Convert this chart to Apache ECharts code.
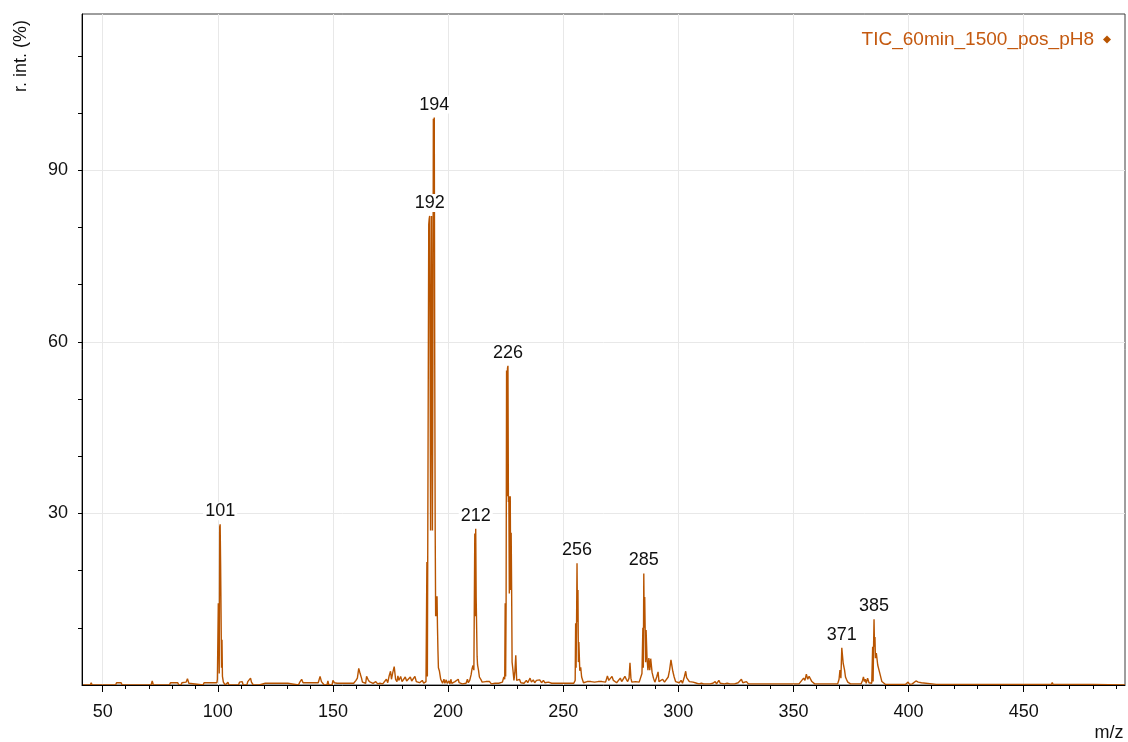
<!DOCTYPE html>
<html>
<head>
<meta charset="utf-8">
<title>TIC_60min_1500_pos_pH8</title>
<script src="https://cdn.jsdelivr.net/npm/echarts@6/dist/echarts.min.js"></script>
<style>
  html, body { margin: 0; padding: 0; background: #fff; }
  #chart { width: 1128px; height: 742px; }
</style>
</head>
<body>
<div id="chart"></div>
<script>
// Mass spectrum profile, [m/z, relative intensity %], split by region.
const lowMass = [
  [41,0],[44.6,0],[45,0.4],[45.4,0],[55.6,0],[56,0.4],[58,0.4],[58.4,0],[71,0],[71.5,0.7],[72,0],
  [79,0],[79.4,0.4],[82.6,0.4],[83,0],[84,0],[84.4,0.4],[86.2,0.5],[86.8,1.1],[87.4,0.3],[88,0],
  [93.6,0],[94,0.4],[97.6,0.4],[98,0.7],[98.4,0.4],[99.6,0.4],[99.8,1.0]
];
const peak101 = [
  [100.0,1.2],[100.2,14.3],[100.4,14.3],[100.6,2],[100.8,27.6],[101.0,28.1],[101.2,21.3],[101.4,21.3],
  [101.6,3],[101.8,7.9],[102.0,1.5],[102.4,0.5],[102.8,0.8],[103.2,0],[104,0],[104.4,0.5],[104.8,0]
];
const midMass = [
  [109,0],[109.4,0.5],[110,0.3],[110.6,0.6],[111,0],[112.6,0],[113,0.6],[113.6,0.5],[114.2,1.2],[114.6,0.5],
  [115,0.8],[115.4,0],[118,0],[118.4,0.3],[120.6,0.3],[121,0],[121.6,0.3],[124,0.3],[124.4,0],[125,0.3],
  [127.4,0.3],[128,0.2],[130.4,0.3],[131,0],[135,0],[135.6,0.5],[136.4,1.0],[137,0.4],[139.4,0.4],[140,0.3],
  [141.8,0.4],[142.2,0.5],[143.6,0.4],[144.4,1.5],[145,0.6],[145.6,0.3],[146.2,0],[147.4,0],[147.8,0.7],[148.2,0],
  [149.6,0],[150,0.8],[150.6,0.4],[151.2,0.4],[151.8,0.3],[159,0.3],[160,0.8],[160.6,1.2],[161.2,2.9],[161.8,2.0],
  [162.4,1.2],[162.8,0.5],[163.4,0.5],[164.2,0.3],[164.6,1.5],[165.2,1.0],[165.8,0.6],[166.6,0.5],[167.4,0.3],
  [168,0.2],[168.6,0.6],[169.4,0.2],[170.4,0.3],[171,0.6],[171.6,0.2],[172.4,0.3],[173.2,1.0],[173.8,0.4],
  [174.4,1.6],[175,2.4],[175.4,1.0],[176,2.2],[176.6,3.2],[177.2,1.0],[177.8,0.6],[178.2,1.6],[178.6,0.8],
  [179.4,1.5],[180,0.6],[180.6,0.6],[181.4,1.4],[182,0.7],[182.8,0.6],[183.6,1.4],[184.2,0.7],[185,1.0],
  [185.6,1.5],[186.2,0.6],[187,0.4],[187.6,0.4],[188.2,0.6],[188.8,0.8],[189.4,0.3],[190.0,0.3],[190.4,0.6]
];
const peak192to212 = [
  [190.8,21.5],[191.0,1.5],[191.4,1.2],[191.6,80.5],[191.8,81.5],[192.0,82],[192.2,56],[192.4,27],[192.6,56],
  [192.8,82],[193.0,56],[193.2,27],[193.4,56],[193.6,99],[193.8,98],[194.0,99.2],[194.2,56],[194.4,27],
  [194.6,12],[194.8,15.5],[195.0,12],[195.2,15.5],[195.4,10],[195.6,6],[195.8,3],[196.2,2.5],[196.8,1],
  [197.2,0.8],[197.6,0.3],[198.2,1.0],[198.6,0.3],[199.2,0.9],[199.6,0.3],[200.4,0.7],[200.8,0.2],[201.2,1.0],
  [201.6,0.3],[202.2,0.4],[203,0.6],[203.6,0.3],[204.4,1.0],[204.8,0.4],[205.4,0.6],[206.2,0.2],[207,0.4],
  [207.8,0.3],[208.4,1.0],[208.8,0.4],[209.4,0.8],[210,1.8],[210.4,2.8],[210.8,3.4],[211.2,2.6],
  [211.6,26.5],[211.8,12],[212.0,27.3],[212.2,15.2],[212.4,15.2],[212.6,5],[212.8,3.5],[213.2,2.6],
  [213.6,1.4],[214.2,1.0],[214.8,0.5],[215.6,0.5],[216.4,0.6],[217.2,0.3],[218,0.6],[218.8,0.2],[219.6,0.5],
  [220.4,0.3],[221.2,0.6],[222,0.3],[222.8,0.4],[223.6,0.5],[224.2,1.4],[224.6,1.0]
];
const peak226to256 = [
  [224.8,14.3],[225.0,1.5],[225.2,14.3],[225.4,55],[225.6,33],[225.8,55.4],[226.0,55.8],[226.2,32],[226.4,33],
  [226.6,16],[226.8,26.6],[227.0,33],[227.2,16.6],[227.4,26.6],[227.6,16.6],[227.8,4],[228.2,2.5],[228.6,0.8],
  [229.0,2.2],[229.4,5.2],[229.8,0.8],[230.4,0.5],[231,1.0],[231.6,0.4],[232.4,0.6],[233,0.3],[234,0.8],
  [234.6,0.4],[235.6,1.2],[236.2,0.5],[237,0.9],[237.6,0.4],[238.4,0.8],[239,0.5],[239.8,0.9],[240.6,0.4],
  [241.4,0.8],[242,0.4],[242.8,0.6],[243.6,0.5],[244.4,0.8],[245,0.3],[245.8,0.6],[246.6,0.3],[247.4,0.6],
  [248.2,0.3],[249,0.5],[249.8,0.3],[250.6,0.6],[251.4,0.3],[252.2,0.5],[253,0.3],[253.8,0.5],[254.6,0.3],
  [255.2,0.8],[255.4,10.8],[255.6,3],[255.8,10.8],[256.0,21.3],[256.2,11],[256.4,16.6],[256.6,4],[256.8,7.5],
  [257.0,7.5],[257.2,2.5],[257.6,3.1],[258.0,1.4],[258.4,1.6],[258.8,0.4]
];
const peak285to305 = [
  [259.6,0.4],[260.4,0.6],[261.2,0.3],[262,0.6],[262.8,0.3],[263.6,0.5],[264.4,0.3],[265.2,0.6],[266,0.3],
  [266.8,0.6],[267.6,0.3],[268.4,0.5],[269.2,1.6],[269.8,0.8],[270.4,0.5],[271.2,1.5],[271.8,0.8],[272.4,0.5],
  [273.2,0.4],[274,0.7],[274.8,1.2],[275.4,0.6],[276.2,0.8],[276.8,1.5],[277.4,1.0],[278,0.6],[278.6,1.2],
  [279.0,3.9],[279.4,1.2],[279.8,0.5],[280.6,0.4],[281.4,0.6],[282.2,0.3],[283,0.5],[283.6,0.8],[284.2,2],
  [284.6,10],[284.8,3],[285.0,19.5],[285.2,10],[285.4,15.4],[285.6,9.6],[285.8,4],[286.0,9.6],[286.4,4.7],
  [286.8,2.6],[287.2,4.7],[287.6,2.6],[288.0,4.6],[288.6,2.2],[289.2,1.2],[289.8,0.5],[290.6,1.4],[291.2,2.3],
  [291.6,0.6],[292.4,0.5],[293.2,1.0],[294,0.5],[294.8,0.6],[295.6,1.4],[296.2,2.6],[296.8,4.4],[297.2,3.4],
  [297.6,2.4],[298.2,1.4],[298.8,0.6],[299.6,0.4],[300.4,0.4],[301.2,0.8],[301.8,0.3],[302.6,1.4],[303.2,2.4],
  [303.6,1.3],[304.2,1.0],[304.8,0.6],[305.6,0.4]
];
const highMass = [
  [306.4,0.5],[307.2,0.2],[308,0.3],[309,0.2],[310,0.3],[311,0.2],[312.6,0.2],[313.2,0.5],[313.8,0.2],[315,0.3],
  [316,0.6],[316.6,0.2],[317.6,0.8],[318.2,0.3],[319,0.3],[320,0.2],[321.2,0.3],[322.4,0.2],[324.4,0.2],
  [325.2,0.5],[326,0.4],[326.8,0.7],[327.4,1.0],[328,0.4],[328.8,0.5],[329.6,0.6],[330.4,0.2],[331.2,0.3],
  [332.4,0.2],[334,0.2],[336,0.2],[338,0.2],[341,0.2],[344,0.2],[346,0.2],[348.6,0.2],[349.2,0.4],[349.8,0.2],
  [351,0.2],[352.4,0.2],[353.2,0.6],[353.8,0.4],[354.4,1.2],[355,0.8],[355.6,1.9],[356.2,1.0],[356.8,1.5],
  [357.4,1.2],[358,0.6],[358.6,0.6],[359.2,0.2],[360,0.2],[362,0.2],[364,0.2],[366,0.2],[368,0.2],[369.2,0.2],
  [369.8,1.0],[370.2,2.6],[370.6,1.2],[371.0,6.5],[371.2,5.6],[371.4,5.6],[371.6,3.8],[371.8,3.8],[372.2,2.6],
  [372.6,1.4],[373.0,1.0],[373.6,0.5],[374.2,0.6],[374.8,0.2],[376,0.2],[378,0.2],[379.4,0.2],[380.0,0.8],
  [380.4,1.4],[380.8,0.6],[381.2,1.0],[381.6,0.3],[382.2,1.2],[382.8,0.4],[383.4,0.6],[384.0,0.3],[384.4,6.7],
  [384.6,0.6],[384.8,6.7],[385.0,11.5],[385.2,6.7],[385.4,8.4],[385.6,4.7],[385.8,4.7],[386.0,5.6],[386.4,5.6],
  [386.6,3.5],[386.8,3.5],[387.2,3.5],[387.6,1.9],[388.0,1.9],[388.4,0.6],[389,0.3],[390,0.1],[392,0.1],
  [398.6,0.1],[399.8,0.5],[400.4,0.1],[401.6,0.2],[402.4,0.4],[403.2,0.7],[403.6,1.0],[404.2,0.5],[404.8,0.3],
  [405.6,0.4],[406.2,0.1],[412,0.1],[418,0.1],[419.6,0.1],[420,0.4],[420.4,0.1],[430,0.1],[431.2,0.1],
  [431.6,0.35],[432,0.1],[450,0.1],[462,0.1],[462.4,0.45],[462.8,0.1],[480,0.1],[494,0]
];

// Annotated peak positions (m/z)
const peakLabels = [101, 192, 194, 212, 226, 256, 285, 371, 385];

// Axis ticks
const xMajorTicks = [50, 100, 150, 200, 250, 300, 350, 400, 450];
const xMinorTicks = [50, 60, 70, 80, 90, 100, 110, 120, 130, 140, 150, 160, 170, 180, 190, 200, 210, 220, 230,
  240, 250, 260, 270, 280, 290, 300, 310, 320, 330, 340, 350, 360, 370, 380, 390, 400, 410, 420, 430, 440, 450,
  460, 470, 480, 490];
const yMajorTicks = [30, 60, 90];
const yMinorTicks = [10, 20, 30, 40, 50, 60, 70, 80, 90, 100, 110];

const seriesName = 'TIC_60min_1500_pos_pH8';
const lineColor = '#b85400';

const profile = [].concat(lowMass, peak101, midMass, peak192to212, peak226to256, peak285to305, highMass);
const labelPoints = peakLabels.map(function (m) {
  const p = profile.find(function (d) { return Math.abs(d[0] - m) < 1e-9; });
  return [m, p ? p[1] : 0];
});

const FONT = '"Liberation Sans", Arial, sans-serif';
const chart = echarts.init(document.getElementById('chart'), null, { renderer: 'canvas' });

chart.setOption({
  animation: false,
  backgroundColor: '#ffffff',
  grid: {
    left: 82, right: 3, top: 14, bottom: 57,
    show: true, borderColor: '#3c3c3c', borderWidth: 1, backgroundColor: 'transparent'
  },
  legend: {
    data: [{ name: seriesName, icon: 'diamond' }],
    right: 12, top: 25, align: 'right',
    itemWidth: 8, itemHeight: 8,
    textStyle: { color: '#c4590f', fontSize: 19, fontFamily: FONT, padding: [0, 4, 0, 0] },
    selectedMode: false
  },
  xAxis: [
    {
      type: 'value', min: 41, max: 494, position: 'bottom',
      axisLine: { show: false },
      axisTick: { show: true, customValues: xMajorTicks, length: 7, lineStyle: { color: '#000' } },
      axisLabel: { customValues: xMajorTicks, color: '#111', fontSize: 18, fontFamily: FONT, margin: 18 },
      splitLine: { show: true, lineStyle: { color: '#e8e8e8', width: 1 } }
    },
    {
      type: 'value', min: 41, max: 494, position: 'bottom', offset: 0, z: 5,
      axisLine: { show: true, onZero: false, lineStyle: { color: '#000', width: 1 } },
      axisTick: { show: true, customValues: xMinorTicks, length: 4, lineStyle: { color: '#000' } },
      axisLabel: { show: false },
      splitLine: { show: false }
    }
  ],
  yAxis: [
    {
      type: 'value', min: 0, max: 117.3, position: 'left',
      axisLine: { show: false },
      axisTick: { show: true, customValues: yMajorTicks, length: 4, lineStyle: { color: '#000' } },
      axisLabel: { customValues: yMajorTicks, color: '#111', fontSize: 18, fontFamily: FONT, margin: 14 },
      splitLine: { show: true, lineStyle: { color: '#e8e8e8', width: 1 } }
    },
    {
      type: 'value', min: 0, max: 117.3, position: 'left', offset: 0, z: 5,
      axisLine: { show: true, onZero: false, lineStyle: { color: '#000', width: 1 } },
      axisTick: { show: true, customValues: yMinorTicks, length: 4, lineStyle: { color: '#000' } },
      axisLabel: { show: false },
      splitLine: { show: false }
    }
  ],
  graphic: [
    {
      type: 'text', x: 21, y: 56, rotation: Math.PI / 2,
      style: { text: 'r. int. (%)', fill: '#111', font: '18px ' + FONT, align: 'center', verticalAlign: 'middle' }
    },
    {
      type: 'text', x: 1109, y: 733,
      style: { text: 'm/z', fill: '#111', font: '18px ' + FONT, align: 'center', verticalAlign: 'middle' }
    }
  ],
  series: [
    {
      name: seriesName,
      type: 'line',
      xAxisIndex: 0, yAxisIndex: 0,
      data: profile,
      showSymbol: false, symbol: 'none',
      itemStyle: { color: lineColor },
      lineStyle: { color: lineColor, width: 1.4 },
      z: 2
    },
    {
      name: 'peaks',
      type: 'scatter',
      xAxisIndex: 0, yAxisIndex: 0,
      data: labelPoints,
      symbolSize: 0,
      silent: true,
      z: 4,
      itemStyle: { opacity: 1 },
      label: {
        show: true, position: 'top', distance: 4,
        formatter: function (p) { return String(Math.round(p.value[0])); },
        color: '#111', fontSize: 18, fontFamily: FONT,
        backgroundColor: '#ffffff', padding: [0, 2]
      }
    }
  ]
});
</script>
</body>
</html>
